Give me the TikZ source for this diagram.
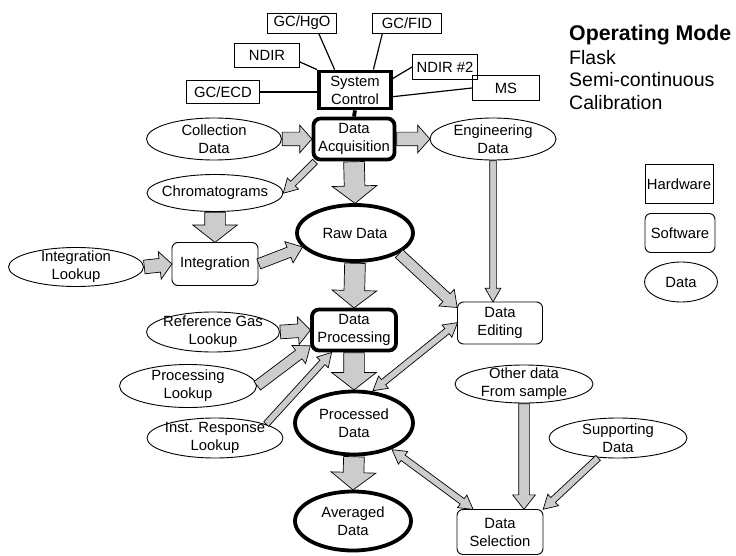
\documentclass[tikz,border=0pt]{standalone}
\usepackage{fontspec}
\setmainfont{Liberation Sans}
\usetikzlibrary{shapes.geometric, shapes.arrows, calc}
\tikzset{
  hw/.style={draw, line width=0.9pt, inner sep=0pt, minimum width=67pt, minimum height=23pt},
  sw/.style={draw, rounded corners=6pt, line width=0.9pt, inner sep=0pt, align=center, minimum width=86pt, minimum height=43pt},
  swbold/.style={sw, line width=3.8pt, rounded corners=7pt},
  dat/.style={ellipse, draw, line width=0.9pt, inner sep=0pt},
  datbold/.style={dat, line width=3.8pt},
  dtxt/.style={align=center, inner sep=0pt},
  link/.style={line width=1.2pt},
  fat/.style={single arrow, draw=black, line width=0.7pt, fill=gray!40, inner xsep=0pt, anchor=tail},
  big/.style={inner ysep=10pt, single arrow head extend=12pt, single arrow tip angle=104},
  mid/.style={inner ysep=6.5pt, single arrow head extend=7pt, single arrow tip angle=97},
  slim/.style={inner ysep=5pt, single arrow head extend=6pt, single arrow tip angle=76},
  thin/.style={inner ysep=3pt, single arrow head extend=4.5pt, single arrow tip angle=60},
  dbl/.style={double arrow, anchor=tip 2, inner ysep=3pt, double arrow head extend=4.5pt, double arrow tip angle=60}
}
% block arrow from one anchor to another
\newcommand{\blockarrow}[3][]{%
  \path let \p1=(#2), \p2=(#3),
    \n1={atan2(\y2-\y1,\x2-\x1)}, \n2={veclen(\x2-\x1,\y2-\y1)} in
    node[fat, #1, minimum height=\n2, rotate=\n1] at (\p1) {};}

\begin{document}
\begin{tikzpicture}[x=1pt, y=-1pt, font=\fontsize{14.8}{18}\selectfont]
\useasboundingbox (0,0) rectangle (736,556);

% hardware
\node[hw, minimum width=69pt, minimum height=20pt] (hgo) at (302,23) {GC/HgO};
\node[hw, minimum width=69pt, minimum height=20pt] (fid) at (407,23) {GC/FID};
\node[hw, minimum width=65pt, minimum height=24pt] (ndir) at (267,55) {NDIR};
\node[hw, minimum width=65pt, minimum height=25pt] (ndirb) at (445,67) {NDIR \#2};
\node[hw, minimum width=73pt] (ecd) at (223,92) {GC/ECD};
\node[hw, minimum width=67pt, minimum height=25pt] (ms) at (506,88) {MS};
\node[draw, line width=3.8pt, inner sep=0pt, align=center, minimum width=72pt, minimum height=37pt] (sc) at (355,90) {System\\Control};

\draw[link] (hgo.-32) -- (sc.135);
\draw[link] (fid.203) -- (sc.48);
\draw[link] (ndir.-12) -- (sc.north west);
\draw[link] (ndirb.west) -- (sc.17);
\draw[link] (ecd.east) -- (ecd.east -| sc.west);
\draw[link] (ms.west) -- (sc.350);

% software
\node[swbold, minimum width=81pt, minimum height=41pt] (da) at (354,139) {Data\\Acquisition};
\node[sw] (int) at (215,264) {Integration};
\node[sw, minimum width=85pt, minimum height=42pt] (de) at (500,323) {Data\\Editing};
\node[swbold, minimum width=84pt, minimum height=41pt] (dp) at (354,330) {Data\\Processing};
\node[sw, minimum height=45pt] (ds) at (500,532) {Data\\Selection};
\draw[line width=3.8pt] (sc.south) -- (da.north);

% data
\node[dat, minimum width=135pt, minimum height=42pt, label={[dtxt]center:Collection\\Data}] (cd) at (214,139) {};
\node[dat, minimum width=126pt, minimum height=42pt, label={[dtxt]center:Engineering\\Data}] (eng) at (493,139) {};
\node[dat, minimum width=136pt, minimum height=37pt, label={[dtxt]center:Chromatograms}] (chrom) at (215,193) {};
\node[dat, minimum width=135pt, minimum height=39pt, label={[dtxt]center:Integration\\Lookup}] (il) at (76,267) {};
\node[datbold, minimum width=116pt, minimum height=56pt, label={[dtxt]center:Raw Data}] (raw) at (355,233) {};
\node[dat, minimum width=133pt, minimum height=40pt, label={[dtxt]center:Reference Gas\\Lookup}] (rg) at (213,332) {};
\node[dat, minimum width=137pt, minimum height=43pt, label={[dtxt]center:Processing\\Lookup}] (pl) at (188,386) {};
\node[dat, minimum width=136pt, minimum height=40pt, label={[dtxt]center:Inst. Response\\Lookup}] (ir) at (215,438) {};
\node[datbold, minimum width=118pt, minimum height=63pt, label={[dtxt]center:Processed\\Data}] (pd) at (354,423) {};
\node[datbold, minimum width=116pt, minimum height=59pt, label={[dtxt]center:Averaged\\Data}] (ad) at (353,521) {};
\node[dat, minimum width=138pt, minimum height=38pt, label={[dtxt]center:Other data\\From sample}] (od) at (524,384) {};
\node[dat, minimum width=138pt, minimum height=40pt, label={[dtxt]center:Supporting\\Data}] (sd) at (618,438) {};

% flows
\blockarrow[mid]{cd.east}{da.west}
\blockarrow[mid]{da.east}{eng.west}
\blockarrow[big]{da.south}{raw.north}
\blockarrow[thin]{da.210}{chrom.east}
\blockarrow[big]{chrom.south}{int.north}
\blockarrow[mid]{il.east}{int.west}
\blockarrow[slim]{int.east}{raw.195}
\blockarrow[slim]{raw.335}{de.160}
\blockarrow[thin]{eng.south}{eng.south |- de.north}
\blockarrow[big]{raw.south}{dp.north}
\blockarrow[mid]{rg.east}{dp.west}
\blockarrow[slim]{pl.east}{dp.200}
\blockarrow[thin]{ir.15}{dp.225}
\blockarrow[big]{dp.south}{pd.north}
\blockarrow[dbl]{pd.60}{de.west}
\blockarrow[big]{pd.south}{ad.north}
\blockarrow[dbl]{pd.325}{ds.140}
\blockarrow[slim]{od.south}{od.south |- ds.north}
\blockarrow[thin]{sd.225}{ds.north east}

% legend
\node[anchor=base west, inner sep=0pt, font=\fontsize{21.3}{24}\selectfont\bfseries] (mode) at (569,40.7) {Operating Mode};
\node[anchor=base west, inner sep=0pt, font=\fontsize{19.5}{23}\selectfont] (flask) at (569,65) {Flask};
\node[anchor=base west, inner sep=0pt, font=\fontsize{19.5}{23}\selectfont] (semi) at (569,86.7) {Semi-continuous};
\node[anchor=base west, inner sep=0pt, font=\fontsize{19.5}{23}\selectfont] (cal) at (569,110) {Calibration};
\node[hw, minimum width=68pt, minimum height=39pt] (keyhw) at (679,184) {Hardware};
\node[sw, minimum width=70pt, minimum height=39pt] (keysw) at (680,233) {Software};
\node[dat, minimum width=73pt, minimum height=40pt, label={[dtxt]center:Data}] (keydat) at (681,282) {};
\end{tikzpicture}
\end{document}
